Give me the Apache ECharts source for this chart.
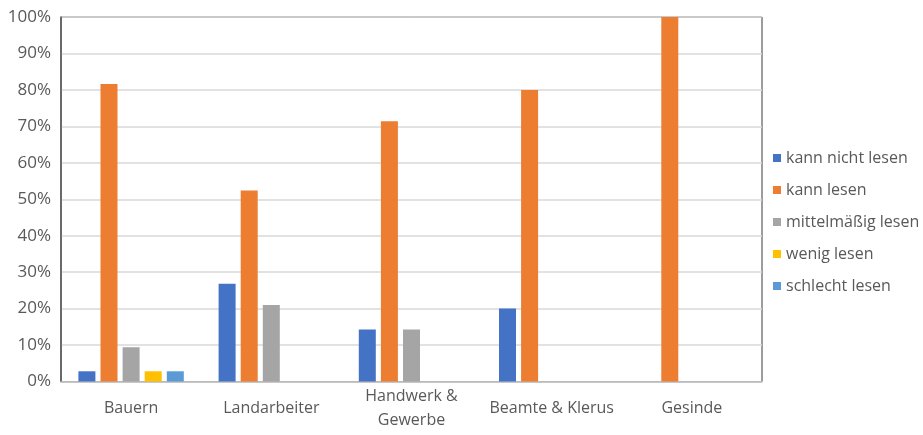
<!DOCTYPE html>
<html>
<head>
<meta charset="utf-8">
<script src="https://cdn.jsdelivr.net/npm/echarts@6/dist/echarts.min.js"></script>
<style>
  html, body { margin: 0; padding: 0; background: #fff; }
  #chart { width: 923px; height: 435px; }
</style>
</head>
<body>
<div id="chart"></div>
<script>
// Berufsgruppen (x-axis categories)
const categories = ['Bauern', 'Landarbeiter', 'Handwerk &\nGewerbe', 'Beamte & Klerus', 'Gesinde'];

// Anteile in Prozent je Lesefähigkeit
const kannNichtLesen   = [2.8, 26.8, 14.3, 20.0, 0];
const kannLesen        = [81.6, 52.4, 71.4, 80.0, 100];
const mittelmaessig    = [9.4, 21.0, 14.3, 0, 0];
const wenigLesen       = [2.8, 0, 0, 0, 0];
const schlechtLesen    = [2.8, 0, 0, 0, 0];

const seriesNames = ['kann nicht lesen', 'kann lesen', 'mittelmäßig lesen', 'wenig lesen', 'schlecht lesen'];
const seriesData = [kannNichtLesen, kannLesen, mittelmaessig, wenigLesen, schlechtLesen];
const colors = ['#4472C4', '#ED7D31', '#A5A5A5', '#FFC000', '#5B9BD5'];

const FONT = '"Open Sans", sans-serif';

const xLabelStyle = {
  fontFamily: FONT, fontSize: 16, color: '#595959',
  lineHeight: 24, verticalAlign: 'middle'
};

// two-line category labels sit a little lower than single-line ones
const categoryItems = categories.map(c => (
  c.indexOf('\n') >= 0
    ? { value: c, textStyle: Object.assign({}, xLabelStyle, { padding: [12, 0, 0, 0] }) }
    : { value: c }
));

const chart = echarts.init(document.getElementById('chart'), null, { renderer: 'canvas' });

chart.setOption({
  animation: false,
  color: colors,
  grid: {
    left: 61, right: 161, top: 17, bottom: 53.5,
    outerBoundsMode: 'none',
    containLabel: false,
    show: true, borderColor: '#3a3a3a', borderWidth: 1, backgroundColor: 'transparent'
  },
  legend: {
    orient: 'vertical',
    left: 768, top: 144,
    icon: 'rect',
    itemWidth: 8, itemHeight: 8,
    itemGap: 14,
    textStyle: { fontFamily: FONT, fontSize: 16, color: '#595959', lineHeight: 18 },
    data: seriesNames
  },
  xAxis: {
    type: 'category',
    data: categoryItems,
    axisLine: { lineStyle: { color: '#BFBFBF', width: 1.5 } },
    axisTick: { show: false },
    axisLabel: Object.assign({ margin: 27, interval: 0 }, xLabelStyle)
  },
  yAxis: {
    type: 'value',
    min: 0, max: 100, interval: 10,
    axisLine: { show: true, lineStyle: { color: '#595959', width: 1.5 } },
    axisTick: { show: false },
    splitLine: { lineStyle: { color: '#D9D9D9', width: 1.5 } },
    axisLabel: {
      fontFamily: FONT, fontSize: 17, color: '#595959', margin: 10,
      formatter: v => v + '%'
    }
  },
  series: seriesNames.map((name, i) => ({
    name: name,
    type: 'bar',
    data: seriesData[i],
    barWidth: 17,
    barGap: '30%'
  }))
});
</script>
</body>
</html>
